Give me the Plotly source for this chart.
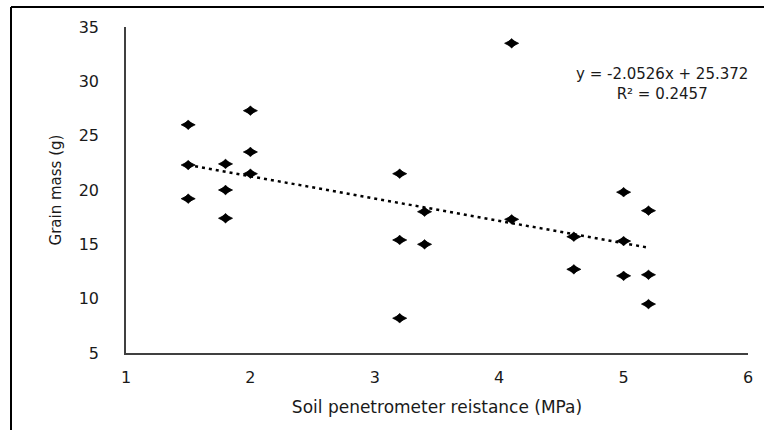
import plotly.graph_objects as go

# Data
resistance_mpa = [1.5, 1.5, 1.5, 1.8, 1.8, 1.8, 2.0, 2.0, 2.0,
                  3.2, 3.2, 3.2, 3.4, 3.4, 4.1, 4.1, 4.6, 4.6,
                  5.0, 5.0, 5.0, 5.2, 5.2, 5.2]
grain_mass_g = [26.0, 22.3, 19.2, 22.4, 20.0, 17.4, 27.3, 23.5, 21.5,
                21.5, 15.4, 8.2, 18.0, 15.0, 33.5, 17.3, 15.7, 12.7,
                19.8, 15.3, 12.1, 18.1, 12.2, 9.5]
trend_slope = -2.0526
trend_intercept = 25.372
r_squared = 0.2457
x_ticks = [1, 2, 3, 4, 5, 6]
y_ticks = [5, 10, 15, 20, 25, 30, 35]

FONT = "DejaVu Sans"
TXT = "#1a1a1a"

x_min, x_max = min(resistance_mpa), max(resistance_mpa)
trend_x = [x_min, x_max]
trend_y = [trend_slope * v + trend_intercept for v in trend_x]

fig = go.Figure()
# wide diamond body
fig.add_trace(go.Scatter(
    x=resistance_mpa, y=grain_mass_g, mode="markers",
    marker=dict(symbol="diamond-wide", size=10, color="black",
                line=dict(color="black", width=0.8)),
    showlegend=False, cliponaxis=False, name="Grain mass",
))
# taller core so the diamond has the reference proportions
fig.add_trace(go.Scatter(
    x=resistance_mpa, y=grain_mass_g, mode="markers",
    marker=dict(symbol="diamond", size=7.5, color="black",
                line=dict(color="black", width=0.5)),
    showlegend=False, cliponaxis=False, hoverinfo="skip",
))
fig.add_trace(go.Scatter(
    x=trend_x, y=trend_y, mode="lines",
    line=dict(color="black", width=2.5, dash="3px,4px"),
    showlegend=False, name="Linear trend",
))

fig.add_annotation(x=5.31, y=29.75, xref="x", yref="y",
                   text=f"y = {trend_slope}x + {trend_intercept}<br>R² = {r_squared}",
                   showarrow=False, xanchor="center", yanchor="middle",
                   align="center",
                   font=dict(family=FONT, size=15, color=TXT))

# outer frame (left and top edges visible)
W, H = 764, 430
L, R, T, B = 126, 16, 27, 77
pw, ph = W - L - R, H - T - B
def px(xp): return (xp - L) / pw
def py(yp): return (H - B - yp) / ph
fig.add_shape(type="line", xref="paper", yref="paper",
              x0=px(11), x1=px(11), y0=py(7), y1=py(431),
              line=dict(color="black", width=2))
fig.add_shape(type="line", xref="paper", yref="paper",
              x0=px(11), x1=px(765), y0=py(7), y1=py(7),
              line=dict(color="black", width=2))

fig.update_layout(
    width=W, height=H,
    margin=dict(l=L, r=R, t=T, b=B),
    paper_bgcolor="white", plot_bgcolor="white",
    font=dict(family=FONT, color=TXT),
    xaxis=dict(range=[1, 6], tickvals=x_ticks, showgrid=False, zeroline=False,
               showline=True, linecolor="#404040", linewidth=1.5, ticks="",
               tickfont=dict(size=16, family=FONT, color=TXT),
               ticklabelstandoff=9,
               title=dict(text="Soil penetrometer reistance (MPa)",
                          font=dict(size=17, family=FONT, color=TXT),
                          standoff=15)),
    yaxis=dict(range=[5, 35], tickvals=y_ticks, showgrid=False, zeroline=False,
               showline=True, linecolor="#404040", linewidth=1.5, ticks="",
               tickfont=dict(size=16, family=FONT, color=TXT),
               ticklabelstandoff=22,
               title=dict(text="Grain mass (g)",
                          font=dict(size=15, family=FONT, color=TXT),
                          standoff=13)),
)

fig.write_html("out.html")
